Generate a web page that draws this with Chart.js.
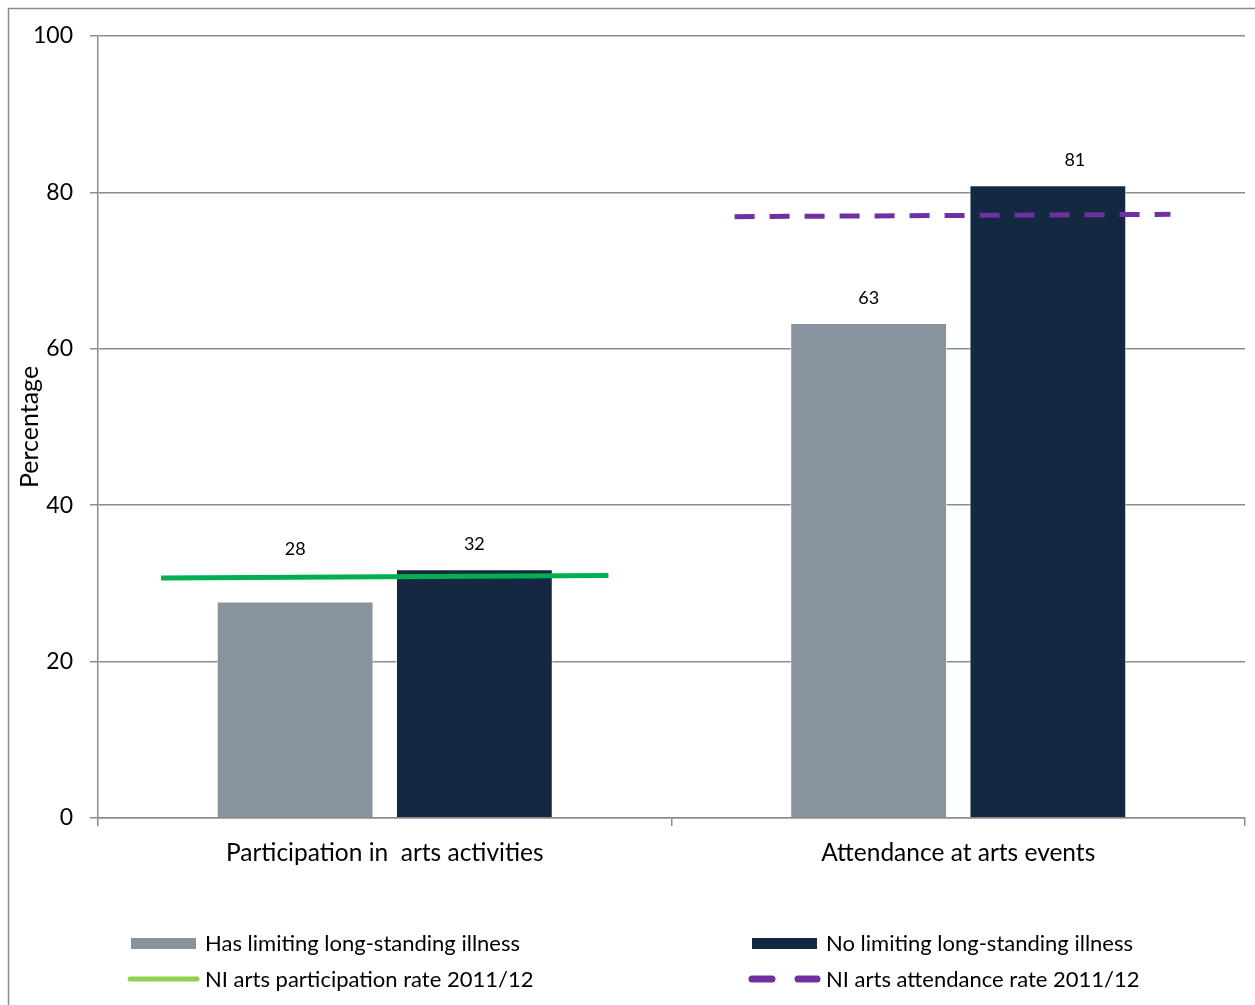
<!DOCTYPE html>
<html>
<head>
<meta charset="utf-8">
<script src="https://cdn.jsdelivr.net/npm/chart.js@4/dist/chart.umd.min.js"></script>
<style>
  body { margin: 0; background: #fff; }
  #chart { display: block; }
</style>
</head>
<body>
<canvas id="chart" width="1255" height="1005"></canvas>
<script>
// values
const categories = ['Participation in  arts activities', 'Attendance at arts events'];
const hasIllness = [27.7, 63.3];
const noIllness = [31.8, 80.9];
const yTicks = [0, 20, 40, 60, 80, 100];

// NI reference rates, x given in category units (0..2 across the plot)
const participationX = [0.11, 0.89];
const participationY = [30.7, 31.0];
const attendanceX = [1.11, 1.87];
const attendanceY = [76.9, 77.2];

const seriesNames = [
    'Has limiting long-standing illness',
    'No limiting long-standing illness',
    'NI arts participation rate 2011/12',
    'NI arts attendance rate 2011/12'
];

const FONT = 'Lato, "Open Sans", sans-serif';
const GRID = '#8c8c8c';

function toPoints(xs, ys) {
    return xs.map((x, i) => ({ x: x, y: ys[i] }));
}

// bars sit in the middle of each category on the shared 0..2 axis
function barPoints(values) {
    return values.map((v, i) => ({ x: i + 0.5, y: v }));
}

const frame = {
    id: 'frame',
    beforeDraw(chart) {
        const ctx = chart.ctx;
        ctx.save();
        ctx.fillStyle = '#fff';
        ctx.fillRect(0, 0, chart.width, chart.height);
        ctx.strokeStyle = GRID;
        ctx.lineWidth = 1.5;
        ctx.strokeRect(8.5, 8.5, chart.width + 20, chart.height + 20);
        ctx.restore();
    }
};

const barLabels = {
    id: 'barLabels',
    afterDatasetsDraw(chart) {
        const ctx = chart.ctx;
        ctx.save();
        ctx.font = '18px ' + FONT;
        ctx.fillStyle = '#000';
        ctx.textAlign = 'center';
        ctx.textBaseline = 'middle';
        chart.data.datasets.forEach((ds, d) => {
            if (ds.type === 'line') return;
            chart.getDatasetMeta(d).data.forEach((bar, i) => {
                // hand-moved labels in the original: 28 above the green line, 81 nudged right
                const lift = (d === 0 && i === 0) ? 52 : 25;
                const shift = (d === 1 && i === 1) ? 27 : 0;
                ctx.fillText(Math.round(ds.data[i].y), bar.x + shift, bar.y - lift);
            });
        });
        ctx.restore();
    }
};

const bottomLegend = {
    id: 'bottomLegend',
    afterDraw(chart) {
        const ctx = chart.ctx;
        const cols = [131, 752];
        const rows = [943, 979];
        ctx.save();
        ctx.font = '22px ' + FONT;
        ctx.textBaseline = 'middle';
        chart.data.datasets.forEach((ds, i) => {
            const x = cols[i % 2];
            const y = rows[Math.floor(i / 2)];
            if (ds.type === 'line') {
                ctx.strokeStyle = ds.legendColor || ds.borderColor;
                ctx.lineCap = 'round';
                if (ds.borderDash) {
                    ctx.lineWidth = 7;
                    ctx.beginPath();
                    ctx.moveTo(x, y); ctx.lineTo(x + 20, y);
                    ctx.moveTo(x + 46, y); ctx.lineTo(x + 65, y);
                    ctx.stroke();
                } else {
                    ctx.lineWidth = 5;
                    ctx.beginPath();
                    ctx.moveTo(x - 1, y); ctx.lineTo(x + 66, y);
                    ctx.stroke();
                }
            } else {
                ctx.fillStyle = ds.backgroundColor;
                ctx.fillRect(x, y - 5, 65, 11);
            }
            ctx.fillStyle = '#000';
            ctx.fillText(ds.label, x + 74, y + 1);
        });
        ctx.restore();
    }
};

new Chart(document.getElementById('chart'), {
    type: 'bar',
    data: {
        labels: categories,
        datasets: [
            {
                label: seriesNames[0],
                data: barPoints(hasIllness),
                xAxisID: 'x2',
                backgroundColor: '#87939e',
                borderColor: 'rgba(255,255,255,0.7)',
                borderWidth: 1,
                order: 2
            },
            {
                label: seriesNames[1],
                data: barPoints(noIllness),
                xAxisID: 'x2',
                backgroundColor: '#142842',
                borderColor: 'rgba(255,255,255,0.7)',
                borderWidth: 1,
                order: 2
            },
            {
                type: 'line',
                label: seriesNames[2],
                data: toPoints(participationX, participationY),
                xAxisID: 'x2',
                borderColor: '#00b050',
                legendColor: '#92d050',
                borderWidth: 5,
                pointRadius: 0,
                fill: false,
                order: 1
            },
            {
                type: 'line',
                label: seriesNames[3],
                data: toPoints(attendanceX, attendanceY),
                xAxisID: 'x2',
                borderColor: '#7030a0',
                borderWidth: 5,
                borderDash: [20, 15],
                pointRadius: 0,
                fill: false,
                order: 1
            }
        ]
    },
    options: {
        responsive: false,
        animation: false,
        devicePixelRatio: 1,
        layout: { padding: { left: 8, top: 36, right: 10, bottom: 127 } },
        datasets: {
            bar: { categoryPercentage: 0.625, barPercentage: 0.875 }
        },
        plugins: {
            legend: { display: false },
            tooltip: { enabled: false }
        },
        scales: {
            // visible axis: category names and boundary tick marks
            x: {
                type: 'category',
                offset: true,
                grid: {
                    offset: true,
                    drawOnChartArea: false,
                    drawTicks: true,
                    tickLength: 8,
                    color: GRID,
                    lineWidth: 1.5
                },
                border: { color: GRID, width: 1.5 },
                ticks: { color: '#000', font: { family: FONT, size: 24.5 }, padding: 12 },
                afterFit(scale) { scale.height = 60; }
            },
            // hidden axis the marks are plotted on
            x2: {
                type: 'linear',
                min: 0,
                max: 2,
                offset: false,
                display: false,
                afterBuildTicks(scale) {
                    scale.ticks = [0, 1, 2].map(v => ({ value: v }));
                }
            },
            y: {
                min: 0,
                max: 100,
                afterBuildTicks(scale) {
                    scale.ticks = yTicks.map(v => ({ value: v }));
                },
                grid: { color: GRID, lineWidth: 1.5, tickLength: 8 },
                border: { color: GRID, width: 1.5 },
                ticks: { color: '#000', font: { family: FONT, size: 23 }, padding: 17 },
                title: {
                    display: true,
                    text: 'Percentage',
                    color: '#000',
                    font: { family: FONT, size: 25 },
                    padding: { top: 7, bottom: 0 }
                },
                afterFit(scale) { scale.width = 90; }
            }
        }
    },
    plugins: [frame, barLabels, bottomLegend]
});
</script>
</body>
</html>
